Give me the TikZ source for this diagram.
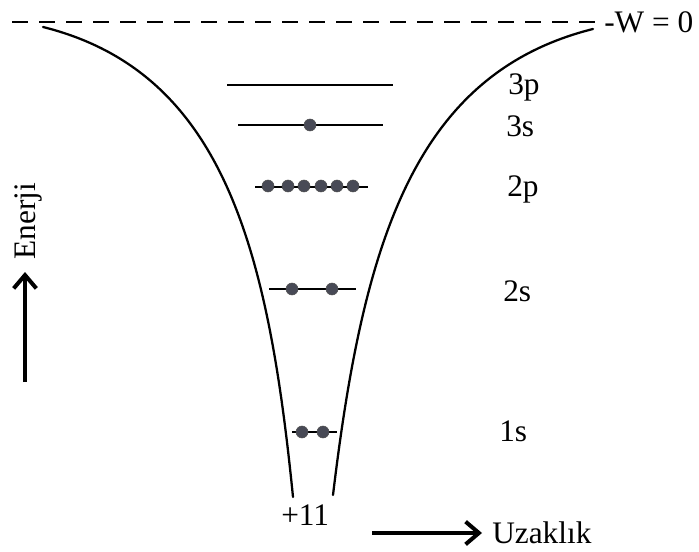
\documentclass[tikz,border=0pt]{standalone}
\usepackage{fontspec}
\setmainfont{Liberation Serif}
\usetikzlibrary{arrows.meta}
\definecolor{elec}{RGB}{72,74,86}
\tikzset{
  lbl/.style={font=\fontsize{23.5pt}{28pt}\selectfont, inner sep=0pt, anchor=base west},
  wall/.style={line width=1.7pt, line cap=round},
  level/.style={line width=1.6pt},
  electron/.style={circle, fill=elec, draw=black!70, line width=0.4pt, minimum size=9pt, inner sep=0pt},
  bigarrow/.style={line width=3pt, -{Straight Barb[length=10pt, width=17pt, line width=3pt]}},
}
\begin{document}
\begin{tikzpicture}[x=0.75pt, y=-0.75pt]
\useasboundingbox (0,0) rectangle (699,552);

% zero line
\coordinate (z0) at (12,22);
\coordinate (z1) at (598,22);
\draw[line width=1.6pt, dash pattern=on 12pt off 8.25pt] (z0) -- (z1);
\node[lbl] (w0) at (604,33) {-W = 0};

% potential walls
\coordinate (la) at (43,27);
\coordinate (lb) at (293,497);
\coordinate (ra) at (593,29);
\coordinate (rb) at (333,495);
\draw[wall] (la) .. controls (223,72) and (268,247) .. (lb);
\draw[wall] (ra) .. controls (413,74) and (363,245) .. (rb);

% levels
\coordinate (p3a) at (227,85); \coordinate (p3b) at (393,85);
\coordinate (s3a) at (238,125); \coordinate (s3b) at (383,125);
\coordinate (p2a) at (255,187); \coordinate (p2b) at (368,187);
\coordinate (s2a) at (269,289); \coordinate (s2b) at (356,289);
\coordinate (s1a) at (292,432); \coordinate (s1b) at (337,432);
\draw[level] (p3a) -- (p3b);
\draw[level] (s3a) -- (s3b);
\draw[level] (p2a) -- (p2b);
\draw[level] (s2a) -- (s2b);
\draw[level] (s1a) -- (s1b);

% electrons
\node[electron] (e3s) at (310,125) {};
\node[electron] (e2p1) at (268,186) {};
\node[electron] (e2p2) at (288,186) {};
\node[electron] (e2p3) at (304,186) {};
\node[electron] (e2p4) at (321,186) {};
\node[electron] (e2p5) at (337,186) {};
\node[electron] (e2p6) at (353,186) {};
\node[electron] (e2s1) at (292,289) {};
\node[electron] (e2s2) at (332,289) {};
\node[electron] (e1s1) at (302,432) {};
\node[electron] (e1s2) at (323,432) {};

% labels
\node[lbl] (l3p) at (508,95) {3p};
\node[lbl] (l3s) at (506,137) {3s};
\node[lbl] (l2p) at (507,197) {2p};
\node[lbl] (l2s) at (503,301) {2s};
\node[lbl] (l1s) at (499,441) {1s};
\node[lbl] (nuc) at (281,525) {+11};

% axes
\coordinate (ea) at (25,382);
\coordinate (eb) at (25,272);
\draw[bigarrow] (ea) -- (eb);
\node[lbl, anchor=base, rotate=90] (en) at (36,221) {Enerji};
\coordinate (ua) at (372,533);
\coordinate (ub) at (482,533);
\node[lbl] (uz) at (492,543) {Uzaklık};
\draw[bigarrow] (ua) -- (ub);
\end{tikzpicture}
\end{document}
